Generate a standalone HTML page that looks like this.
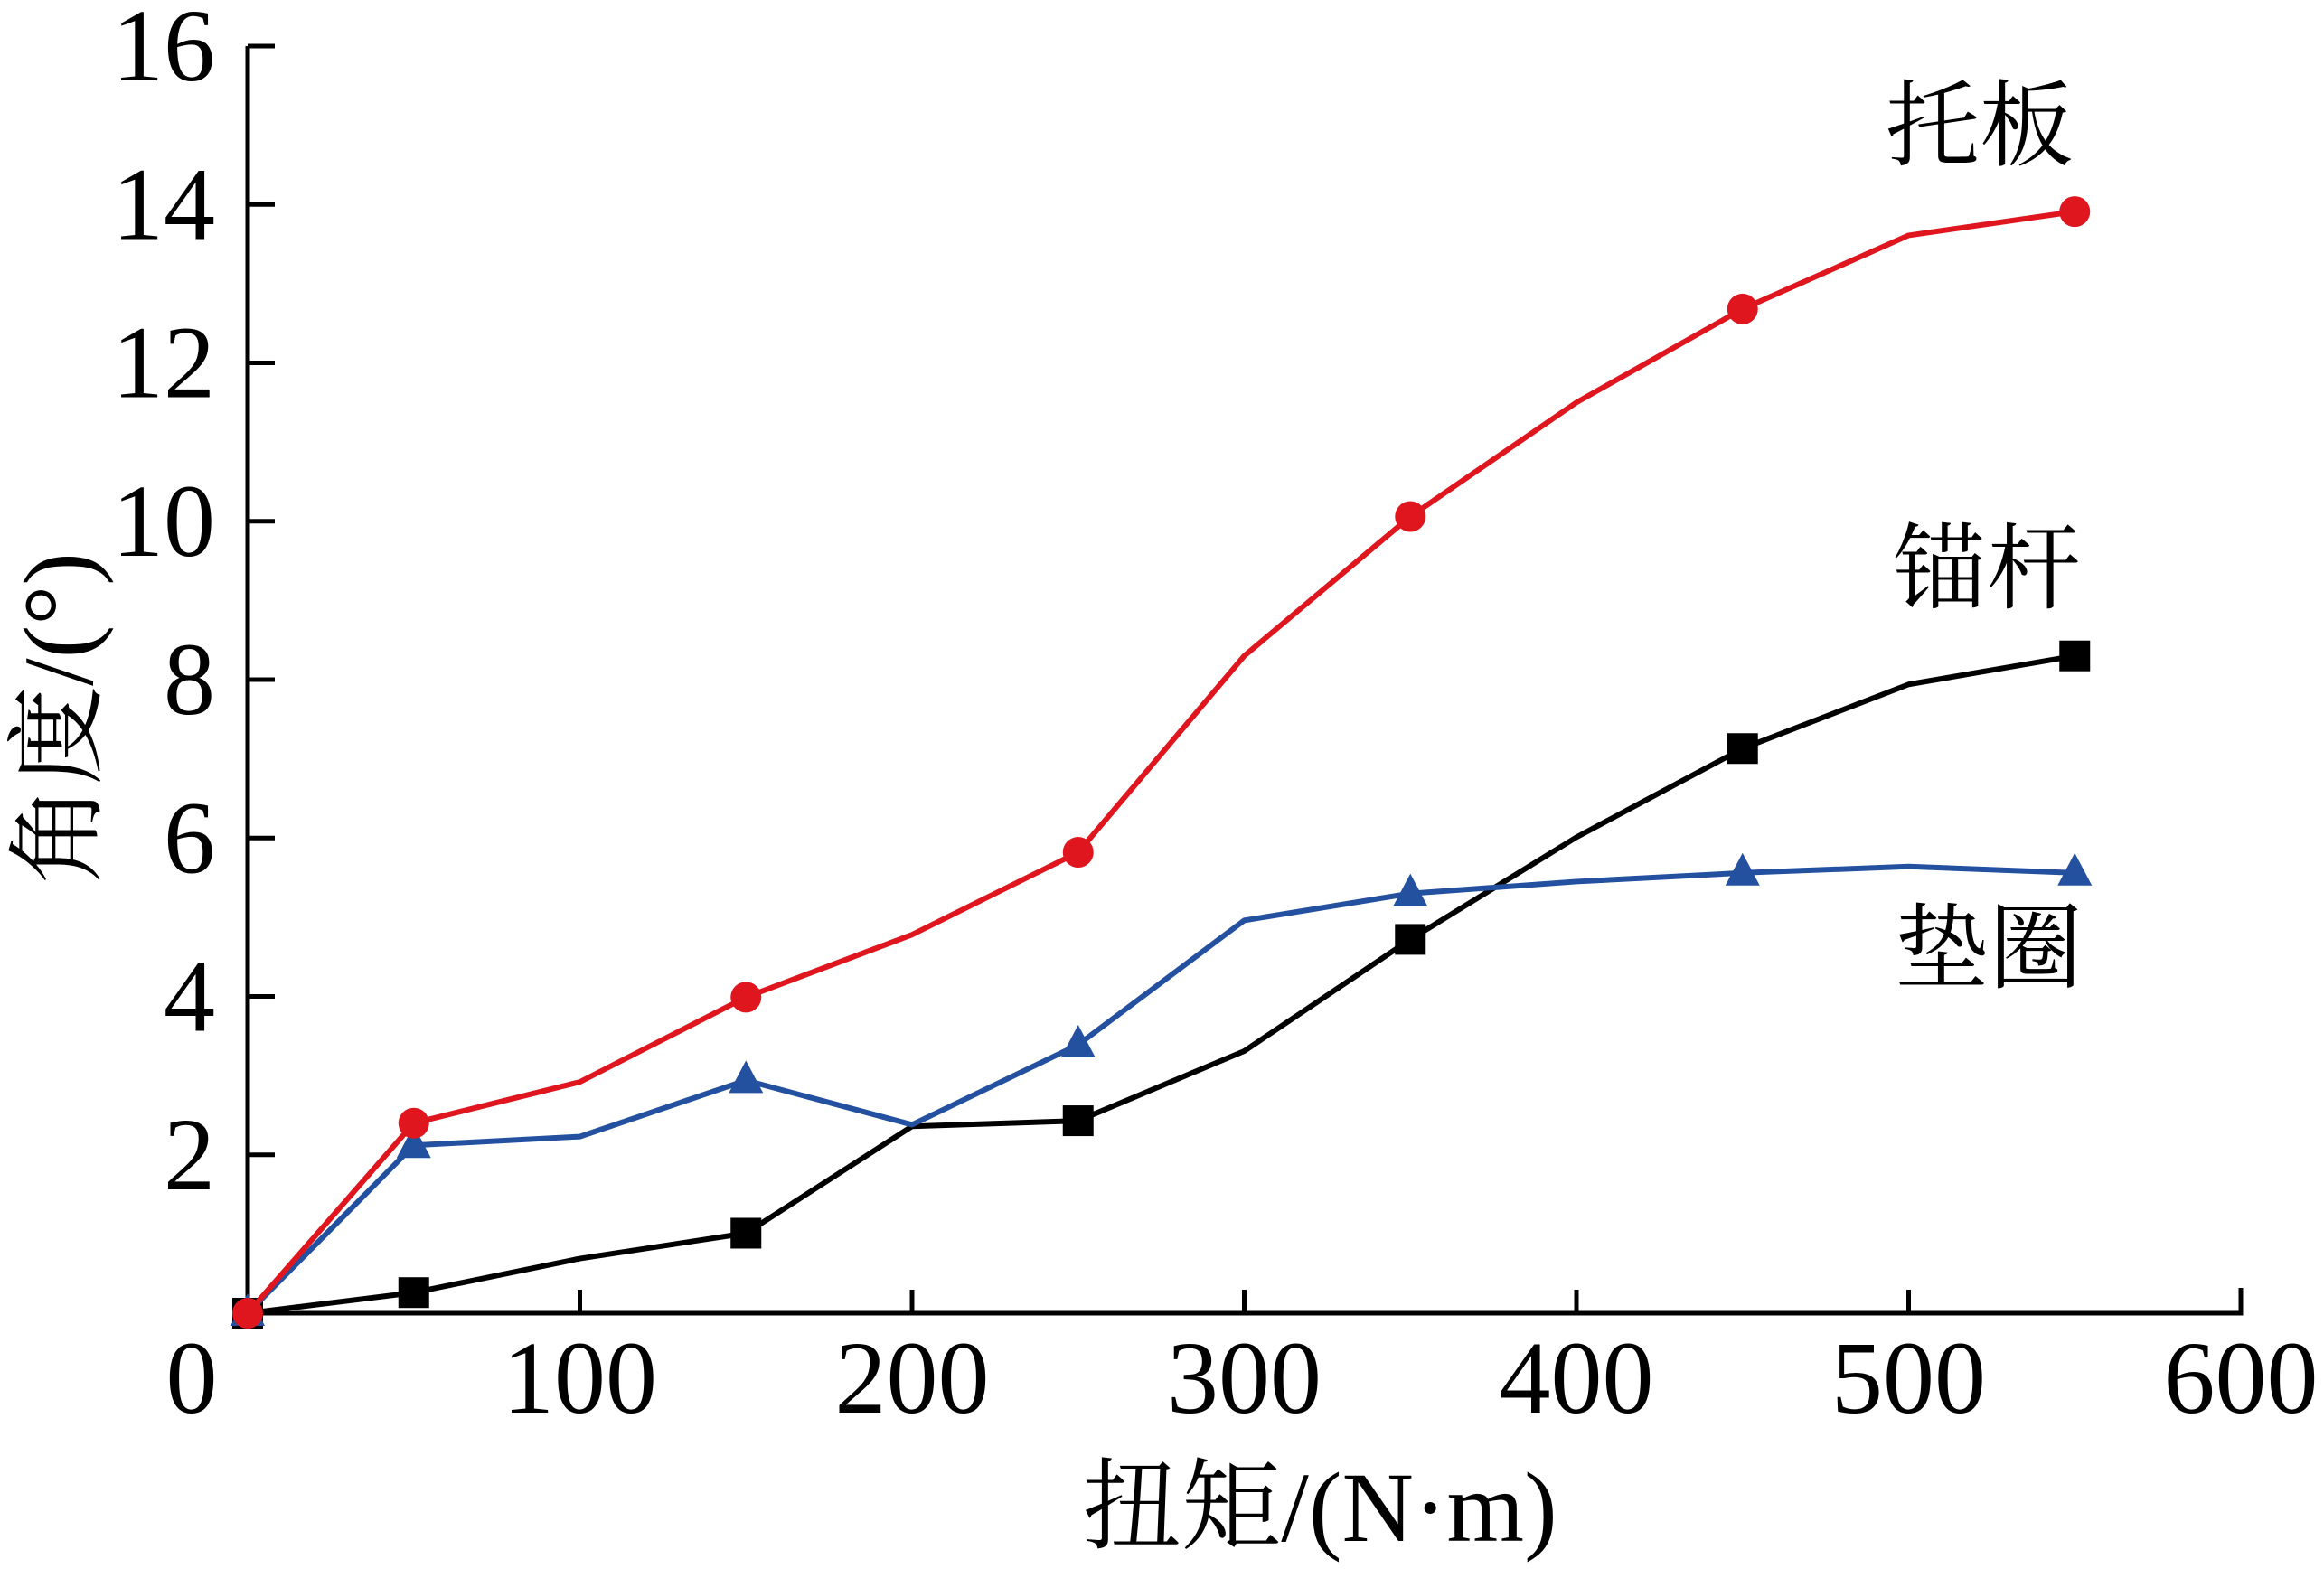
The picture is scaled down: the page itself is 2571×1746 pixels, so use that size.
<!DOCTYPE html>
<html><head><meta charset="utf-8"><style>
html,body{margin:0;padding:0;background:#fff;}
svg{display:block;}
text{font-family:"Liberation Serif","Noto Serif CJK SC",serif;fill:#000;}
</style></head><body>
<svg id="chart" width="2571" height="1746" viewBox="0 0 2571 1746" xmlns="http://www.w3.org/2000/svg"></svg>
<script>
const xCategories = [0,50,100,150,200,250,300,350,400,450,500,550];
const boltValues = [0,0.26,0.69,1.01,2.36,2.43,3.31,4.72,6.01,7.13,7.94,8.3];
const plateValues = [0,2.4,2.92,3.99,4.78,5.82,8.3,10.06,11.5,12.68,13.61,13.91];
const washerValues = [0,2.12,2.23,2.94,2.38,3.39,4.96,5.3,5.45,5.56,5.64,5.56];
const xTicks = [0,100,200,300,400,500,600];
const yTicks = [2,4,6,8,10,12,14,16];
const markerIdx = [0,1,3,5,7,9,11];

const NS="http://www.w3.org/2000/svg";
const svg=document.getElementById('chart');
const X0=274,X1=2479,Y0=1453,Y1=51;
const xs=v=>X0+(v/600)*(X1-X0);
const ys=v=>Y0-(v/16)*(Y0-Y1);
function mk(tag,attrs,parent){const e=document.createElementNS(NS,tag);for(const k in attrs)e.setAttribute(k,attrs[k]);(parent||svg).appendChild(e);return e;}

// axes
const ax=mk('path',{d:`M${X0},${Y1} L${X0},${Y0} L${X1},${Y0} L${X1},${Y0-28}`,fill:'none',stroke:'#000','stroke-width':5});


mk('line',{x1:X0,y1:Y1,x2:X0+30,y2:Y1,stroke:'#000','stroke-width':5});
yTicks.forEach(t=>{
  const l=mk('line',{x1:X0,y1:ys(t),x2:X0+30,y2:ys(t),stroke:'#000','stroke-width':5});
  
  
  const tx=mk('text',{x:238,y:ys(t)+38,'font-size':114,'text-anchor':'end'});
  tx.textContent=t;
  
  
});
xTicks.forEach(t=>{
  if(t>0&&t<600){const l=mk('line',{x1:xs(t),y1:Y0,x2:xs(t),y2:Y0-26,stroke:'#000','stroke-width':5});
  
  }
  const tx=mk('text',{x:t===0?212:xs(t),y:1563,'font-size':114,'text-anchor':'middle'});
  tx.textContent=t;
  
  
});
const xt=mk('text',{x:1460,y:1705,'font-size':110,'text-anchor':'middle'});
xt.textContent='扭矩/(N·m)';


const yt=mk('text',{x:0,y:0,'font-size':110,'text-anchor':'middle',transform:'translate(102,795) rotate(-90)'});
yt.textContent='角度/(°)';



function series(vals,color,shape,name){
  const g=mk('g',{});
  
  
  const pts=vals.map((v,i)=>`${xs(xCategories[i])},${ys(v)}`).join(' ');
  const pl=mk('polyline',{points:pts,fill:'none',stroke:color,'stroke-width':6,'stroke-linejoin':'round'},g);
  
  
  markerIdx.forEach(i=>{
    const cx=xs(xCategories[i]),cy=ys(vals[i]);let m;
    if(shape==='circle')m=mk('circle',{cx:cx,cy:cy,r:17,fill:color},g);
    else if(shape==='square')m=mk('rect',{x:cx-17,y:cy-17,width:34,height:34,fill:color},g);
    else m=mk('polygon',{points:`${cx},${cy-22} ${cx-19},${cy+14} ${cx+19},${cy+14}`,fill:color},g);
    
    
  });
}
series(boltValues,'#000','square','bolt');
series(washerValues,'#2450a0','triangle','washer');
series(plateValues,'#e0161f','circle','plate');

[['托板',2190,175,'plate-label'],['锚杆',2198,665,'bolt-label'],['垫圈',2200,1085,'washer-label']].forEach(a=>{
  const t=mk('text',{x:a[1],y:a[2],'font-size':104,'text-anchor':'middle'});
  t.textContent=a[0];
  
  
});
</script>
</body></html>
